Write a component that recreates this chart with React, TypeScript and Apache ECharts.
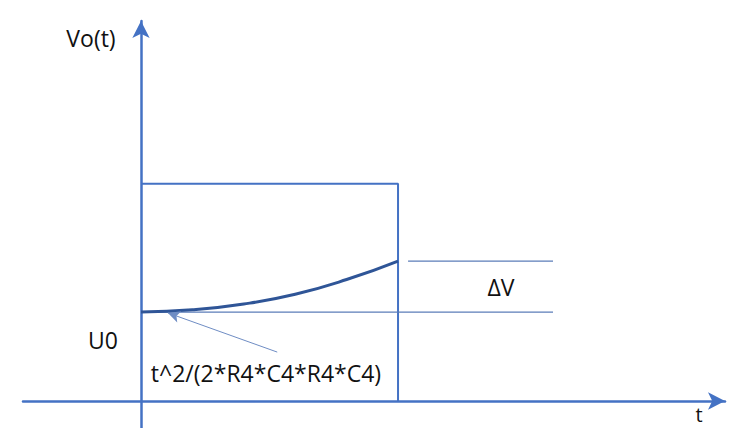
import React, { useEffect, useRef } from "react";
import * as echarts from "echarts";

// Time (pulse width normalised to 1) and voltage (U0 normalised to 1)
const pulseStart = 0;
const pulseEnd = 1;
const pulseLevel = 2.44;
const U0 = 1.0;
const refLineEnd = 1.603;
const dvLineStart = 1.039;

const curveT = [0, 0.2, 0.4, 0.6, 0.8, 1.0];
const curveV = [1.0, 1.025, 1.09, 1.2, 1.365, 1.573];

const arrowFrom = [0.53, 0.55];
const arrowTo = [0.105, 0.99];

const labelVo = "Vo(t)";
const labelT = "t";
const labelU0 = "U0";
const labelDV = "ΔV";
const labelFormula = "t^2/(2*R4*C4*R4*C4)";

const AXIS = "#4472C4";
const THIN = "#5B7DB8";
const CURVE = "#2F5597";
const FONT = "'Open Sans', 'Noto Sans', sans-serif";

export default function App() {
  const ref = useRef<HTMLDivElement>(null);
  useEffect(() => {
    if (!ref.current) return;
    const chart = echarts.init(ref.current, undefined, { renderer: "svg" });
    const curveData = curveT.map((t, i) => [t, curveV[i]]);
    const txt = (text: string, x: number, y: number, size = 23) => ({
      type: "text",
      x,
      y,
      style: {
        text,
        font: `${size}px ${FONT}`,
        fill: "#111",
        textAlign: "center",
        textVerticalAlign: "middle",
      },
    });
    chart.setOption({
      animation: false,
      backgroundColor: "#ffffff",
      grid: { left: 23, right: 20, top: 21, bottom: 0 },
      xAxis: {
        type: "value",
        min: -0.459,
        max: 2.272,
        axisLine: {
          show: true,
          onZero: true,
          symbol: ["none", "arrow"],
          symbolSize: [13, 17],
          lineStyle: { color: AXIS, width: 2.5 },
        },
        axisTick: { show: false },
        axisLabel: { show: false },
        splitLine: { show: false },
      },
      yAxis: {
        type: "value",
        min: -0.303,
        max: 4.27,
        axisLine: {
          show: true,
          onZero: true,
          symbol: ["none", "arrow"],
          symbolSize: [13, 17],
          lineStyle: { color: AXIS, width: 2.5 },
        },
        axisTick: { show: false },
        axisLabel: { show: false },
        splitLine: { show: false },
      },
      series: [
        {
          type: "line",
          data: [
            [pulseStart, pulseLevel],
            [pulseEnd, pulseLevel],
            [pulseEnd, 0],
          ],
          symbol: "none",
          lineStyle: { color: AXIS, width: 2 },
        },
        {
          type: "line",
          data: [
            [pulseStart, U0],
            [refLineEnd, U0],
          ],
          symbol: "none",
          lineStyle: { color: THIN, width: 1.2 },
        },
        {
          type: "line",
          data: [
            [dvLineStart, curveV[curveV.length - 1]],
            [refLineEnd, curveV[curveV.length - 1]],
          ],
          symbol: "none",
          lineStyle: { color: THIN, width: 1.2 },
        },
        {
          type: "line",
          data: curveData,
          smooth: true,
          symbol: "none",
          lineStyle: { color: CURVE, width: 3 },
          markLine: {
            silent: true,
            symbol: ["none", "arrow"],
            symbolSize: [9, 12],
            label: { show: false },
            lineStyle: { color: "#6F8DC4", width: 1, type: "solid" },
            data: [[{ coord: arrowFrom }, { coord: arrowTo }]],
          },
        },
      ],
      graphic: [
        txt(labelVo, 91, 38),
        txt(labelU0, 103, 340),
        txt(labelDV, 501, 287),
        txt(labelFormula, 266, 373),
        txt(labelT, 699, 414, 20),
      ],
    });
    return () => chart.dispose();
  }, []);
  return (
    <div
      ref={ref}
      style={{ position: "absolute", left: 0, top: 0, width: 745, height: 428 }}
    />
  );
}
